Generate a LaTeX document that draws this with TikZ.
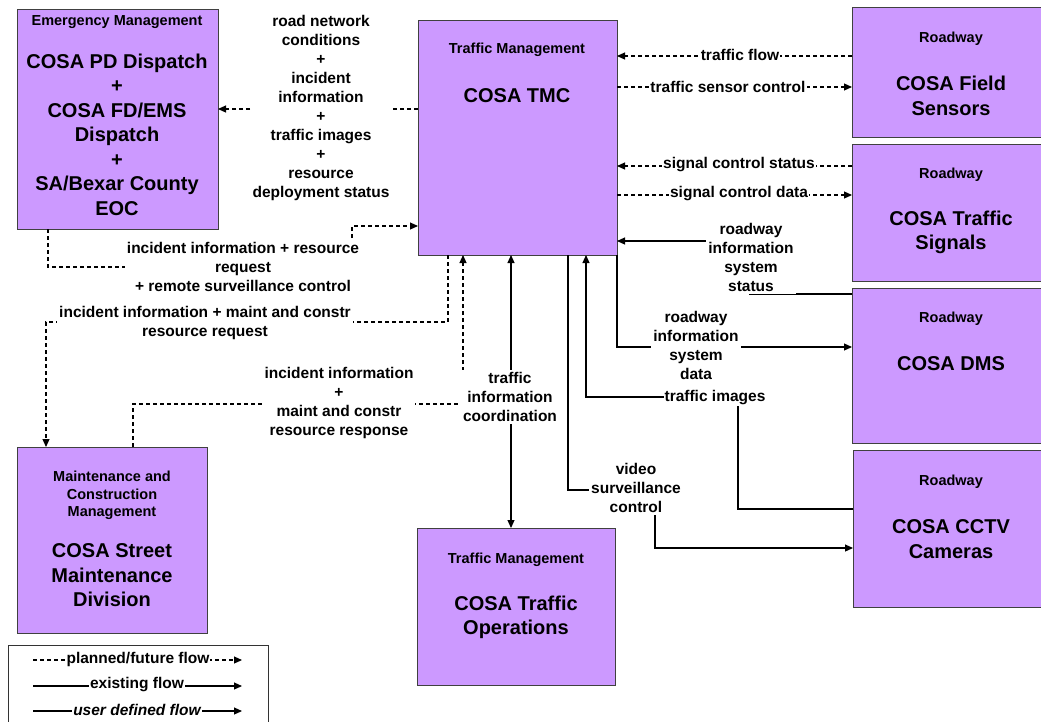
\documentclass[tikz,border=0pt]{standalone}
\usepackage{fontspec}
\setmainfont{Liberation Sans}
\usetikzlibrary{arrows.meta}
\definecolor{boxpurple}{RGB}{204,153,255}
\begin{document}
\begin{tikzpicture}[x=1pt,y=-1pt,
  box/.style={draw=black!75, fill=boxpurple, line width=0.9pt, anchor=north west, inner sep=0pt, outer sep=0pt},
  ttl/.style={font=\fontsize{14.5}{17.5}\selectfont\bfseries, align=center, inner sep=0pt},
  nm/.style={font=\fontsize{20}{24.5}\selectfont\bfseries, align=center, inner sep=0pt},
  lbl/.style={font=\fontsize{15.5}{19}\selectfont\bfseries, align=center, fill=white, inner sep=2pt},
  tlbl/.style={lbl, inner sep=1pt},
  flow/.style={line width=1.1pt, -{Triangle[length=8pt,width=7pt]}},
  fp/.style={flow, dash pattern=on 4pt off 3pt},
  fe/.style={flow},
  fd/.style={line width=1.1pt, {Triangle[length=8pt,width=7pt]}-{Triangle[length=8pt,width=7pt]}}
]
\useasboundingbox (0,0) rectangle (1041,721);
\clip (0,0) rectangle (1041,721);
\fill[white] (0,0) rectangle (1041,721);

% boxes
\node[box, minimum width=201pt, minimum height=220pt] (em) at (17,9) {};
\node[box, minimum width=199pt, minimum height=235pt] (tmc) at (418,20) {};
\node[box, minimum width=200pt, minimum height=130pt] (fs) at (852,7) {};
\node[box, minimum width=200pt, minimum height=137pt] (sig) at (852,144) {};
\node[box, minimum width=200pt, minimum height=155pt] (dms) at (852,288) {};
\node[box, minimum width=200pt, minimum height=157pt] (cctv) at (853,450) {};
\node[box, minimum width=190pt, minimum height=186pt] (mcm) at (17,447) {};
\node[box, minimum width=198pt, minimum height=157pt] (ops) at (417,528) {};

% box texts
\node[ttl] (emt) at (117,22) {Emergency Management};
\node[nm] (emn) at (117,134.5) {COSA PD Dispatch\\+\\COSA FD/EMS\\Dispatch\\+\\SA/Bexar County\\EOC};
\node[ttl] (tmct) at (517,50) {Traffic Management};
\node[nm] (tmcn) at (517,96) {COSA TMC};
\node[ttl] (fst) at (951,39) {Roadway};
\node[nm] (fsn) at (951,96) {COSA Field\\Sensors};
\node[ttl] (sigt) at (951,175) {Roadway};
\node[nm] (sign) at (951,232.5) {COSA Traffic\\Signals};
\node[ttl] (dmst) at (951,319) {Roadway};
\node[nm] (dmsn) at (951,364) {COSA DMS};
\node[ttl] (cctvt) at (951,482) {Roadway};
\node[nm] (cctvn) at (951,539) {COSA CCTV\\Cameras};
\node[ttl] (mcmt) at (112,495.5) {Maintenance and\\Construction\\Management};
\node[nm] (mcmn) at (112,575.5) {COSA Street\\Maintenance\\Division};
\node[ttl] (opst) at (516,560) {Traffic Management};
\node[nm] (opsn) at (516,617.5) {COSA Traffic\\Operations};

% bend coordinates
\coordinate (y1) at (0,109);
\coordinate (b2a) at (48,267);
\coordinate (b2b) at (352,267);
\coordinate (b2c) at (352,226);
\coordinate (b3a) at (448,322);
\coordinate (b3b) at (46,322);
\coordinate (b4a) at (133,404);
\coordinate (b4b) at (463,404);
\coordinate (x5) at (511,0);
\coordinate (b6a) at (568,490);
\coordinate (b6b) at (655,490);
\coordinate (b6c) at (655,548);
\coordinate (b7a) at (738,509);
\coordinate (b7b) at (738,397);
\coordinate (b7c) at (586,397);
\coordinate (b8a) at (617,347);
\coordinate (b9a) at (750,294);
\coordinate (b9b) at (750,241);
\coordinate (y10) at (0,56);
\coordinate (y11) at (0,87);
\coordinate (y12) at (0,166);
\coordinate (y13) at (0,195);

% connectors
\draw[fp] (tmc.west |- y1) -- (em.east |- y1);
\draw[fp] (em.south -| b2a) -- (b2a) -- (b2b) -- (b2c) -- (tmc.west |- b2c);
\draw[fp] (tmc.south -| b3a) -- (b3a) -- (b3b) -- (mcm.north -| b3b);
\draw[fp] (mcm.north -| b4a) -- (b4a) -- (b4b) -- (tmc.south -| b4b);
\draw[fd] (tmc.south -| x5) -- (ops.north -| x5);
\draw[fe] (tmc.south -| b6a) -- (b6a) -- (b6b) -- (b6c) -- (cctv.west |- b6c);
\draw[fe] (cctv.west |- b7a) -- (b7a) -- (b7b) -- (b7c) -- (tmc.south -| b7c);
\draw[fe] (tmc.south east) -- (b8a) -- (dms.west |- b8a);
\draw[fe] (dms.west |- b9a) -- (b9a) -- (b9b) -- (tmc.east |- b9b);
\draw[fp] (fs.west |- y10) -- (tmc.east |- y10);
\draw[fp] (tmc.east |- y11) -- (fs.west |- y11);
\draw[fp] (sig.west |- y12) -- (tmc.east |- y12);
\draw[fp] (tmc.east |- y13) -- (sig.west |- y13);

% connector labels
\node[lbl] (l1) at (321,108) {road network\\conditions\\+\\incident\\information\\+\\traffic images\\+\\resource\\deployment status};
\node[lbl] (l2) at (243,266.5) {incident information + resource\\request\\+ remote surveillance control};
\node[lbl] (l3) at (205,322.5) {incident information + maint and constr\\resource request};
\node[lbl] (l4) at (339,403) {incident information\\+\\maint and constr\\resource response};
\node[lbl] (l5) at (510,397) {traffic\\information\\coordination};
\node[lbl] (l6) at (636,488) {video\\surveillance\\control};
\node[tlbl] (l7) at (715,397.5) {traffic images};
\node[lbl] (l8) at (696,345) {roadway\\information\\system\\data};
\node[lbl] (l9) at (751,257.5) {roadway\\information\\system\\status};
\node[tlbl] (l10) at (740,55) {traffic flow};
\node[tlbl] (l11) at (728,87) {traffic sensor control};
\node[tlbl] (l12) at (739,165) {signal control status};
\node[tlbl] (l13) at (739,194) {signal control data};

% legend
\node[draw=black!80, line width=0.8pt, fill=white, anchor=north west, minimum width=260pt, minimum height=90pt, inner sep=0pt] (leg) at (8,645) {};
\coordinate (g1a) at (33,660); \coordinate (g1b) at (242,660);
\coordinate (g2a) at (33,686); \coordinate (g2b) at (242,686);
\coordinate (g3a) at (33,711); \coordinate (g3b) at (242,711);
\draw[fp] (g1a) -- (g1b);
\draw[fe] (g2a) -- (g2b);
\draw[fe] (g3a) -- (g3b);
\node[tlbl] (lg1) at (138,659) {planned/future flow};
\node[tlbl] (lg2) at (137,685) {existing flow};
\node[tlbl, font=\fontsize{15.5}{19}\selectfont\bfseries\itshape] (lg3) at (137,710) {user defined flow};
\end{tikzpicture}
\end{document}
